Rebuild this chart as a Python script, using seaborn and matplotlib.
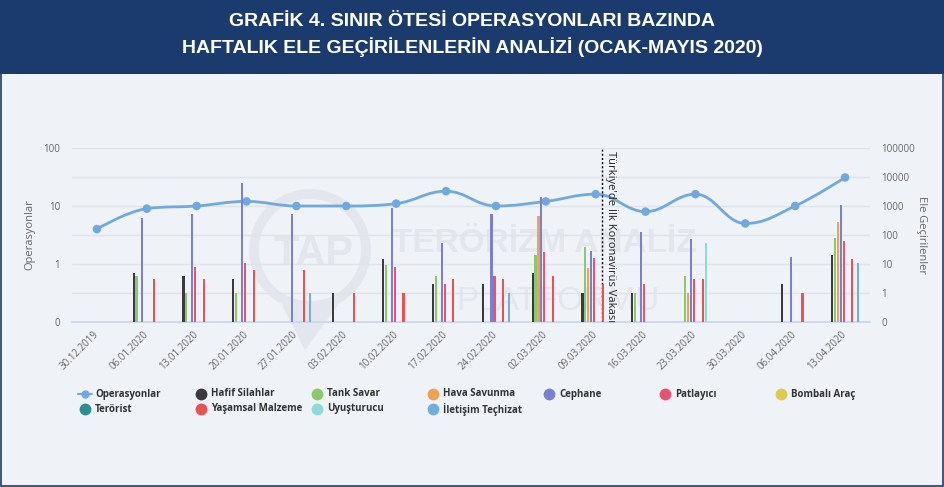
import numpy as np
import pandas as pd
import matplotlib
matplotlib.use('Agg')
import matplotlib.pyplot as plt
import seaborn as sns
from matplotlib.path import Path
from matplotlib.patches import PathPatch, Circle, Rectangle, Polygon
from matplotlib.lines import Line2D
from matplotlib.ticker import NullFormatter, NullLocator

# weekly data
dates = ['30.12.2019', '06.01.2020', '13.01.2020', '20.01.2020', '27.01.2020', '03.02.2020',
         '10.02.2020', '17.02.2020', '24.02.2020', '02.03.2020', '09.03.2020', '16.03.2020',
         '23.03.2020', '30.03.2020', '06.04.2020', '13.04.2020']

operasyonlar = [4, 9, 10, 12, 10, 10, 11, 18, 10, 12, 16, 8, 16, 5, 10, 31]

hafif_silahlar = [0, 5, 4, 3, 0, 1, 15, 2, 2, 5, 1, 1, 0, 0, 2, 20]
tank_savar = [0, 4, 1, 1, 0, 0, 9, 4, 0, 20, 40, 1, 4, 0, 0, 80]
hava_savunma = [0, 0, 0, 0, 0, 0, 0, 0, 0, 460, 7, 0, 1, 0, 0, 270]
cephane = [0, 380, 550, 6000, 520, 0, 830, 52, 550, 2100, 28, 130, 75, 0, 17, 1100]
patlayici = [0, 0, 8, 11, 0, 0, 8, 2, 4, 26, 16, 2, 3, 0, 0, 62]
bombali_arac = [0] * 16
terorist = [0] * 16
yasamsal_malzeme = [0, 3, 3, 6, 6, 1, 1, 3, 3, 4, 2, 0, 3, 0, 1, 15]
uyusturucu = [0, 0, 0, 0, 0, 0, 0, 0, 0, 0, 0, 0, 55, 0, 0, 0]
iletisim_techizat = [0, 0, 0, 0, 1, 0, 0, 0, 1, 0, 0, 0, 0, 0, 0, 11]

series_names = ['Hafif Silahlar', 'Tank Savar', 'Hava Savunma', 'Cephane', 'Patlayıcı',
                'Bombalı Araç', 'Terörist', 'Yaşamsal Malzeme', 'Uyuşturucu', 'İletişim Teçhizat']
series_values = [hafif_silahlar, tank_savar, hava_savunma, cephane, patlayici,
                 bombali_arac, terorist, yasamsal_malzeme, uyusturucu, iletisim_techizat]
series_colors = ['#3a3a40', '#8cca68', '#f0a152', '#7c7fd0', '#ea5274',
                 '#dccb4c', '#2b908f', '#ec5050', '#8fd9d6', '#70aee0']
line_color = '#6fa9de'

first_case = 10.13  # first Covid case in Turkey, between 09.03 and 16.03

bg = '#eff2f7'
navy = '#1b3b6f'
W, H = 945, 487

sns.set_theme(style='white')
plt.rcParams['font.family'] = ['Open Sans', 'DejaVu Sans']
title_font = ['Liberation Sans', 'DejaVu Sans']


def spline_path(xs, ys):
    # highcharts-style spline through the points, built in log space
    ly = np.log10(np.asarray(ys, dtype=float))
    n = len(xs)
    left, right = [None] * n, [None] * n
    sm, den = 1.5, 2.5
    for i in range(1, n - 1):
        px, py = xs[i], ly[i]
        lx, lyy = xs[i - 1], ly[i - 1]
        nx, ny = xs[i + 1], ly[i + 1]
        lcx, lcy = (sm * px + lx) / den, (sm * py + lyy) / den
        rcx, rcy = (sm * px + nx) / den, (sm * py + ny) / den
        corr = (rcy - lcy) * (rcx - px) / (rcx - lcx) + py - rcy
        lcy += corr
        rcy += corr
        if lcy > lyy and lcy > py:
            lcy = max(lyy, py); rcy = 2 * py - lcy
        elif lcy < lyy and lcy < py:
            lcy = min(lyy, py); rcy = 2 * py - lcy
        if rcy > ny and rcy > py:
            rcy = max(ny, py); lcy = 2 * py - rcy
        elif rcy < ny and rcy < py:
            rcy = min(ny, py); lcy = 2 * py - rcy
        left[i], right[i] = (lcx, lcy), (rcx, rcy)
    verts, codes = [(xs[0], ly[0])], [Path.MOVETO]
    for i in range(1, n):
        verts += [right[i - 1] or (xs[i - 1], ly[i - 1]), left[i] or (xs[i], ly[i]), (xs[i], ly[i])]
        codes += [Path.CURVE4] * 3
    verts = np.array(verts)
    verts[:, 1] = 10 ** verts[:, 1]
    return Path(verts, codes)


fig = plt.figure(figsize=(W / 100, H / 100), dpi=100)
fig.patch.set_facecolor(bg)

# title banner and frame
fig.add_artist(Rectangle((0, 1 - 74 / H), 1, 74 / H, transform=fig.transFigure,
                         facecolor=navy, edgecolor='none', zorder=-5))
fig.add_artist(Rectangle((1.5 / W, 1.5 / H), 1 - 3 / W, 1 - 3 / H, transform=fig.transFigure,
                         facecolor='none', edgecolor=navy, lw=1.2, zorder=-4))
fig.text(0.5, 1 - 22 / H, 'GRAFİK 4. SINIR ÖTESİ OPERASYONLARI BAZINDA', ha='center', va='center',
         color='white', fontsize=14, fontweight='bold', family=title_font)
fig.text(0.5, 1 - 47 / H, 'HAFTALIK ELE GEÇİRİLENLERİN ANALİZİ (OCAK-MAYIS 2020)', ha='center',
         va='center', color='white', fontsize=14, fontweight='bold', family=title_font)

# faint watermark behind the plot
wm = '#e3e7ed'
fig.add_artist(Circle((3.10, (H - 250) / 100), 0.56, transform=fig.dpi_scale_trans,
                      facecolor='none', edgecolor=wm, lw=7, zorder=-3))
fig.add_artist(Polygon([(2.82, (H - 305) / 100), (3.38, (H - 305) / 100), (3.05, (H - 350) / 100)],
                       closed=True, transform=fig.dpi_scale_trans, facecolor=wm, edgecolor='none', zorder=-3))
fig.text(314 / W, 1 - 254 / H, 'TAP', ha='center', va='center', color=wm, fontsize=30,
         fontweight='bold', family=title_font, zorder=-2)
fig.text(392 / W, 1 - 243 / H, 'TERÖRİZM ANALİZ', ha='left', va='center', color=wm, fontsize=24,
         fontweight='bold', family=title_font, zorder=-2)
fig.text(456 / W, 1 - 302 / H, 'PLATFORMU', ha='left', va='center', color=wm, fontsize=24,
         family=title_font, zorder=-2)

ax = fig.add_axes([72 / W, 1 - 322 / H, 798 / W, 174 / H])
ax2 = ax.twinx()
ax.set_facecolor('none')
ax2.set_facecolor('none')

# bars on the right (Ele Geçirilenler) axis
rows = []
for name, vals in zip(series_names, series_values):
    for d, v in zip(dates, vals):
        rows.append((d, name, v if v > 0 else np.nan))
df = pd.DataFrame(rows, columns=['Hafta', 'Tür', 'Adet']).dropna()

sns.barplot(data=df, x='Hafta', y='Adet', hue='Tür', order=dates, hue_order=series_names,
            palette=series_colors, width=0.59, gap=0.28, errorbar=None, saturation=1,
            linewidth=0, legend=False, ax=ax2, zorder=3)
ax2.set_yscale('log')
ax2.set_ylim(0.1, 1e5)
ax2.set_yticks([0.1, 1, 10, 100, 1000, 10000, 100000],
               labels=['0', '1', '10', '100', '1000', '10000', '100000'])
ax2.yaxis.set_minor_locator(NullLocator())
ax2.set_ylabel('Ele Geçirilenler', rotation=270, color='#666666', fontsize=8, labelpad=9)
ax2.set_xlabel('')

# operations line on the left axis
x_pos = np.arange(len(dates))
ax.set_yscale('log')
ax.add_patch(PathPatch(spline_path(x_pos, operasyonlar), fill=False, edgecolor=line_color,
                       lw=2, zorder=2))
sns.scatterplot(x=x_pos, y=operasyonlar, ax=ax, color=line_color, s=38, edgecolor='none',
                zorder=3, legend=False)
ax.set_ylim(0.1, 100)
ax.set_yticks([0.1, 1, 10, 100], labels=['0', '1', '10', '100'])
ax.set_yticks(10 ** np.array([-0.5, 0.5, 1.5]), minor=True)
ax.yaxis.set_minor_formatter(NullFormatter())
ax.yaxis.grid(True, which='both', color='#dfe3ea', lw=1)
ax.set_ylabel('Operasyonlar', color='#666666', fontsize=8, labelpad=5.5)

ax.set_xlim(-0.5, len(dates) - 0.5)
ax.set_xticks(x_pos, labels=dates, rotation=45, ha='right', rotation_mode='anchor', va='center')
ax.set_xticks(np.arange(-0.5, len(dates), 1), minor=True)
ax.tick_params(axis='x', which='major', length=0, pad=8, labelsize=7, labelcolor='#666666')
ax.tick_params(axis='x', which='minor', length=6, color='#ccd6eb', width=1)
ax.tick_params(axis='y', which='both', length=0, labelsize=7, labelcolor='#666666', pad=8.5)
ax2.tick_params(axis='y', which='both', length=0, labelsize=7, labelcolor='#666666', pad=8)
for s in ['top', 'left', 'right']:
    ax.spines[s].set_visible(False)
for s in ax2.spines.values():
    s.set_visible(False)
ax.spines['bottom'].set_color('#ccd6eb')

# first covid case marker
ax.axvline(first_case, color='black', lw=1, ls=(0, (1.5, 1.5)), zorder=4)
ax.annotate("Türkiye'de İlk Koronavirüs Vakası", xy=(first_case, 1), xycoords=('data', 'axes fraction'),
            xytext=(2, -2), textcoords='offset points', rotation=270, ha='left', va='top',
            fontsize=8, color='#222222')

# legend, row-major like the original
legend_names = ['Operasyonlar'] + series_names
legend_colors = [line_color] + series_colors
for i, (name, color) in enumerate(zip(legend_names, legend_colors)):
    r, c = divmod(i, 7)
    mx, my = (85 + 116 * c) / W, 1 - (394 + 15 * r) / H
    if i == 0:
        fig.add_artist(Line2D([mx - 7 / W, mx + 7 / W], [my, my], color=color, lw=1.5))
        fig.add_artist(Line2D([mx], [my], marker='o', ms=5, color=color, ls='none'))
    else:
        fig.add_artist(Line2D([mx], [my], marker='o', ms=7.5, color=color, ls='none'))
    fig.text(mx + 10 / W, my, name, va='center', ha='left', fontsize=7, fontweight='bold',
             color='#333333')

fig.savefig('out.png', dpi=100, facecolor=fig.get_facecolor())
